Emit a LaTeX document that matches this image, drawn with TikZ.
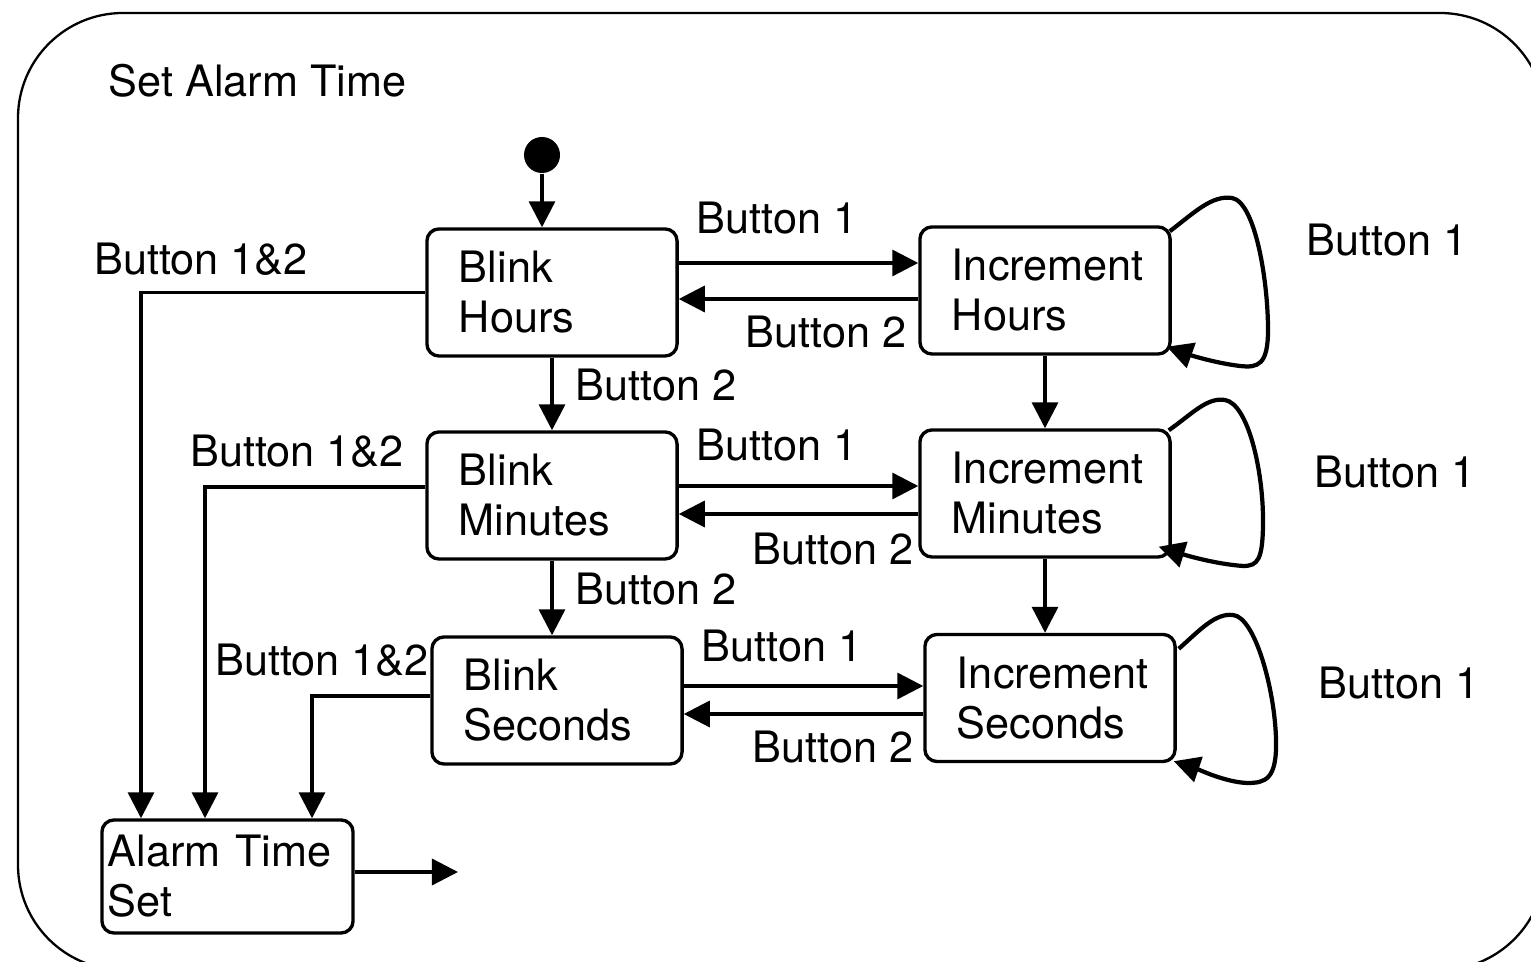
\documentclass[tikz,border=0pt]{standalone}
\usepackage{fontspec}
\setmainfont{TeX Gyre Heros}
\usetikzlibrary{arrows.meta}

\begin{document}
\begin{tikzpicture}[x=0.01cm, y=-0.01cm,
  every node/.style={font=\fontsize{12.3pt}{14.2pt}\selectfont, inner sep=0pt},
  state/.style={draw, line width=0.95pt, rounded corners=0.12cm, minimum height=1.27cm, text width=1.86cm, inner xsep=0.32cm, align=left},
  every edge/.style={draw, line width=0.95pt, -{Triangle[length=0.26cm,width=0.26cm]}},
  arr/.style={line width=0.95pt, -{Triangle[length=0.26cm,width=0.26cm]}},
  loopline/.style={line width=1.2pt, -{Triangle[length=0.26cm,width=0.26cm]}}]

  \useasboundingbox (0,0) rectangle (1531,962);
  \clip (0,0) rectangle (1531,962);

  % Rahmen und Zustaende
  \draw[line width=0.65pt, rounded corners=1.05cm] (18,13) rectangle (1545,970);
  \node[anchor=west] (title) at (108,81) {Set Alarm Time};

  \coordinate (xinit) at (542,155);
  \coordinate (xbh) at (552,292.5);
  \coordinate (xih) at (1045,290.5);
  \coordinate (xbm) at (552,495.5);
  \coordinate (xim) at (1045,493.5);
  \coordinate (xbs) at (557,700.5);
  \coordinate (xis) at (1050,698);
  \coordinate (xats) at (227.5,876.5);
  \coordinate (xout) at (458,872);
  \node[circle, fill, minimum size=0.36cm] (init) at (xinit) {};
  \node[state] (bh) at (xbh) {Blink\\Hours};
  \node[state] (ih) at (xih) {Increment\\Hours};
  \node[state] (bm) at (xbm) {Blink\\Minutes};
  \node[state] (im) at (xim) {Increment\\Minutes};
  \node[state] (bs) at (xbs) {Blink\\Seconds};
  \node[state] (is) at (xis) {Increment\\Seconds};
  \node[state, minimum height=1.13cm, text width=2.39cm, inner xsep=0.06cm] (ats) at (xats) {Alarm Time\\Set};

  % Uebergaenge
  \draw (init) edge (init |- bh.north);
  \draw (bh.east |- 0,263) edge (ih.west |- 0,263);
  \draw (ih.west |- 0,299) edge (bh.east |- 0,299);
  \draw (bm.east |- 0,486) edge (im.west |- 0,486);
  \draw (im.west |- 0,514) edge (bm.east |- 0,514);
  \draw (bs.east |- 0,686) edge (is.west |- 0,686);
  \draw (is.west |- 0,714) edge (bs.east |- 0,714);
  \draw (bh) edge (bm);
  \draw (ih) edge (im);
  \draw (bm.south) edge (bm.south |- bs.north);
  \draw (im.south) edge (im.south |- is.north);
  \draw[arr] (bh.west) -| (ats.north -| 141,0);
  \draw[arr] (bm.west |- 0,487) -| (ats.north -| 205,0);
  \draw[arr] (bs.west |- 0,696) -| (ats.north -| 312,0);
  \draw (ats.east |- xout) edge (xout);

  \draw[loopline] ([shift={(-2,6)}]ih.north east) .. controls (1195,212) and (1212,195) .. (1232,198)
    .. controls (1255,202) and (1268,280) .. (1268,330) .. controls (1268,365) and (1258,368) .. (1240,366)
    .. controls (1215,363) and (1190,355) .. ([shift={(-5,-9)}]ih.south east);
  \draw[loopline] ([shift={(-3,2)}]im.north east) .. controls (1192,414) and (1207,397) .. (1225,400)
    .. controls (1248,404) and (1263,470) .. (1263,520) .. controls (1263,560) and (1258,566) .. (1243,566)
    .. controls (1215,564) and (1185,555) .. ([shift={(-13,-12)}]im.south east);
  \draw[loopline] ([shift={(2,16)}]is.north east) .. controls (1200,630) and (1215,613) .. (1233,615)
    .. controls (1255,617) and (1275,690) .. (1276,740) .. controls (1277,780) and (1265,783) .. (1247,783)
    .. controls (1225,782) and (1200,770) .. ([shift={(-3,-2)}]is.south east);

  % Beschriftungen
  \node (l1) at (777,218) {Button 1};
  \node (l2) at (826,332) {Button 2};
  \node (l3) at (656,385) {Button 2};
  \node (l4) at (777,445) {Button 1};
  \node (l5) at (833,549) {Button 2};
  \node (l6) at (656,589) {Button 2};
  \node (l7) at (782,646) {Button 1};
  \node (l8) at (833,747) {Button 2};
  \node (l9) at (1387,240) {Button 1};
  \node (l10) at (1395,472) {Button 1};
  \node (l11) at (1399,683) {Button 1};
  \node (l12) at (201,259) {Button 1\&2};
  \node (l13) at (297,451) {Button 1\&2};
  \node (l14) at (322,660) {Button 1\&2};

\end{tikzpicture}
\end{document}
